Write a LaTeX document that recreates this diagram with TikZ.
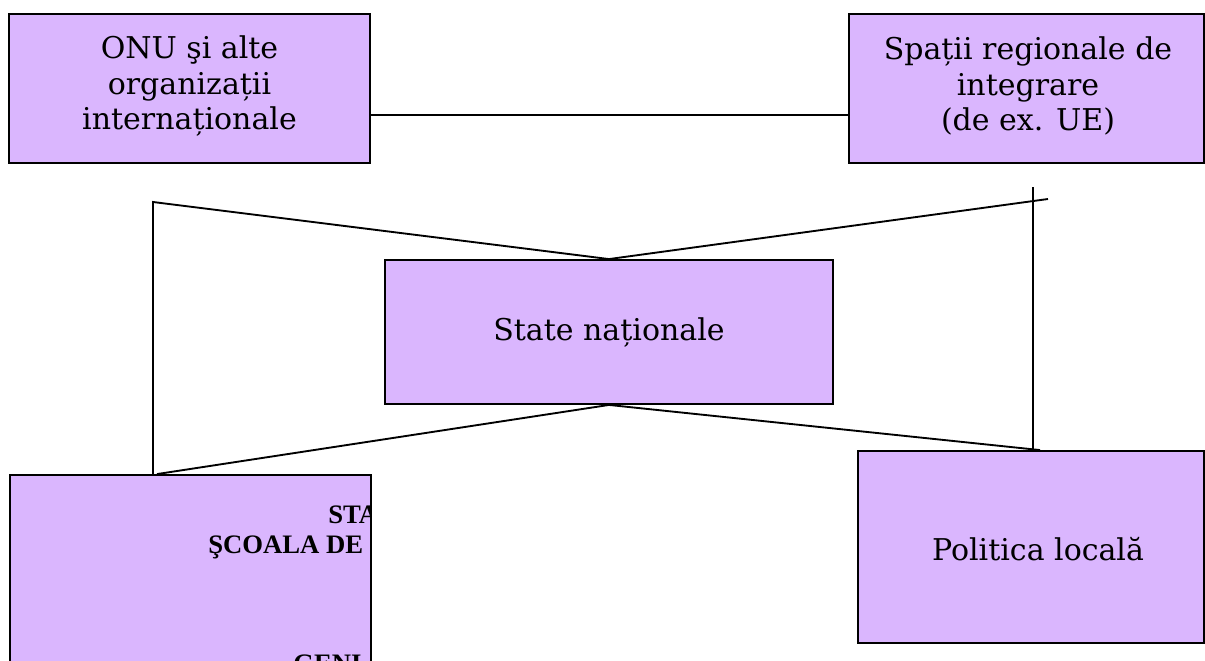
\documentclass[tikz,border=0pt]{standalone}
\usepackage{fontspec}
\setmainfont{DejaVu Serif}
\newfontfamily\timesfont{Liberation Serif}
\usetikzlibrary{calc}
\definecolor{lila}{RGB}{218,182,254}
\tikzset {
    box/.style = {draw, fill = lila, line width = 1.4pt, align = center,
        inner sep = 0pt, font = \fontsize{22.5}{26.3}\selectfont},
    label text/.style = {align = center, font = \fontsize{22.5}{26.3}\selectfont},
    link/.style = {line width = 1.4pt},
    clipped text/.style = {anchor = base west, inner sep = 0pt,
        font = \timesfont\bfseries\fontsize{20}{24}\selectfont}
}
\begin{document}
\begin{tikzpicture}[x = 0.75pt, y = -0.75pt]
            \useasboundingbox (0, 0) rectangle (1205, 660);
            \node (onu) [box, minimum width = 270.75pt, minimum height = 111.75pt]
                at (189.5, 88.5) {};
            \node at (189.5, 86) [label text] {ONU şi alte\\organizații\\internaționale};
            \node (ue) [box, minimum width = 266.25pt, minimum height = 111.75pt]
                at (1026.5, 88.5) {};
            \node at (1028, 86) [label text] {Spații regionale de\\integrare\\(de ex. UE)};
            \node (state) [box, minimum width = 336pt, minimum height = 108pt]
                at (609, 332) {State naționale};
            \node (scoala) [box, minimum width = 270.75pt, minimum height = 168.75pt]
                at (190.5, 587.5) {};
            \node (local) [box, minimum width = 259.5pt, minimum height = 144pt]
                at (1031, 547) {};
            \node at (1038, 549) [label text] {Politica locală};
            % text cut by the box
            \begin{scope}
                \clip (scoala.south west) rectangle (scoala.north east);
                \node (sta) [clipped text] at (328, 523) {STA};
                \node (sc) [clipped text] at (208, 553) {ŞCOALA DE};
                \node (geni) [clipped text] at (293, 672) {GENI};
            \end{scope}
            % connectors
            \coordinate (h) at (0, 115);
            \coordinate (tl) at (153, 202);
            \coordinate (tr) at (1048, 199);
            \coordinate (vr) at (1033, 187);
            \coordinate (bl) at (157, 0);
            \coordinate (br) at (1040, 0);
            \draw [link] (onu.east |- h) -- (ue.west |- h);
            \draw [link] (tl |- scoala.north) -- (tl) -- (state.north) -- (tr);
            \draw [link] (vr) -- (vr |- local.north);
            \draw [link] (bl |- scoala.north) -- (state.south) -- (br |- local.north);
        \end{tikzpicture}
\end{document}
